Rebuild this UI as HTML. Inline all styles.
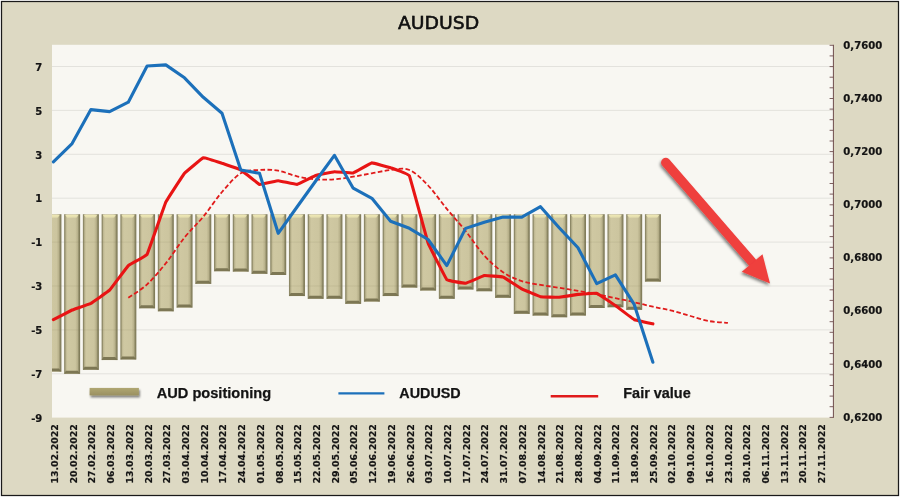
<!DOCTYPE html>
<html lang="en"><head><meta charset="utf-8"><title>AUDUSD</title>
<style>html,body{margin:0;padding:0;background:#fff}body{width:900px;height:497px;overflow:hidden}svg{display:block}.ax{font-family:"DejaVu Sans","Liberation Sans",sans-serif;font-weight:bold;fill:#141414;stroke:#141414;stroke-width:0.2px}.lg{font-family:"Liberation Sans",sans-serif;font-weight:bold;fill:#141414}.ti{font-family:"DejaVu Sans","Liberation Sans",sans-serif;fill:#111}</style></head><body>
<svg width="900" height="497" viewBox="0 0 900 497">
<defs>
<linearGradient id="bg" x1="0" y1="0" x2="1" y2="0"><stop offset="0" stop-color="#8a8563"/><stop offset="0.05" stop-color="#8f8a68"/><stop offset="0.12" stop-color="#c0b993"/><stop offset="0.22" stop-color="#cfc8a2"/><stop offset="0.70" stop-color="#ccc59f"/><stop offset="0.84" stop-color="#b8b18b"/><stop offset="0.92" stop-color="#8d8865"/><stop offset="1" stop-color="#787350"/></linearGradient>
<linearGradient id="bt" x1="0" y1="0" x2="0" y2="1"><stop offset="0" stop-color="#f0eab6" stop-opacity="0.95"/><stop offset="0.6" stop-color="#ebe5b2" stop-opacity="0.8"/><stop offset="1" stop-color="#e6e0b0" stop-opacity="0"/></linearGradient>
<linearGradient id="bb" x1="0" y1="0" x2="0" y2="1"><stop offset="0" stop-color="#6f6946" stop-opacity="0"/><stop offset="1" stop-color="#6f6946" stop-opacity="0.85"/></linearGradient>
<linearGradient id="lgb" x1="0" y1="0" x2="0" y2="1"><stop offset="0" stop-color="#b0a772"/><stop offset="1" stop-color="#9a9060"/></linearGradient>
<filter id="sh" x="-20%" y="-20%" width="140%" height="140%"><feGaussianBlur in="SourceAlpha" stdDeviation="1.7"/><feOffset dx="-1.5" dy="2"/><feComponentTransfer><feFuncA type="linear" slope="0.5"/></feComponentTransfer><feMerge><feMergeNode/><feMergeNode in="SourceGraphic"/></feMerge></filter>
<filter id="sh2" x="-10%" y="-50%" width="120%" height="250%"><feGaussianBlur in="SourceAlpha" stdDeviation="1"/><feOffset dx="0.5" dy="1.5"/><feComponentTransfer><feFuncA type="linear" slope="0.5"/></feComponentTransfer><feMerge><feMergeNode/><feMergeNode in="SourceGraphic"/></feMerge></filter>
<clipPath id="cp"><rect x="52.0" y="44.8" width="781.0" height="372.8"/></clipPath>
</defs>
<rect x="0" y="0" width="900" height="497" fill="#ffffff"/>
<rect x="1.5" y="1.5" width="897" height="494" fill="#ddd9c3" stroke="#1a1a1a" stroke-width="1.25"/>
<rect x="52.0" y="44.8" width="781.0" height="372.8" fill="#f8f7f2"/>
<line x1="52.0" x2="833.0" y1="66.5" y2="66.5" stroke="#e3e2dd" stroke-width="1"/>
<line x1="52.0" x2="833.0" y1="110.4" y2="110.4" stroke="#e3e2dd" stroke-width="1"/>
<line x1="52.0" x2="833.0" y1="154.3" y2="154.3" stroke="#e3e2dd" stroke-width="1"/>
<line x1="52.0" x2="833.0" y1="198.2" y2="198.2" stroke="#e3e2dd" stroke-width="1"/>
<line x1="52.0" x2="833.0" y1="242.1" y2="242.1" stroke="#e3e2dd" stroke-width="1"/>
<line x1="52.0" x2="833.0" y1="286.0" y2="286.0" stroke="#e3e2dd" stroke-width="1"/>
<line x1="52.0" x2="833.0" y1="329.9" y2="329.9" stroke="#e3e2dd" stroke-width="1"/>
<line x1="52.0" x2="833.0" y1="373.8" y2="373.8" stroke="#e3e2dd" stroke-width="1"/>
<g clip-path="url(#cp)">
<rect x="45.40" y="214.2" width="16.0" height="157.4" fill="url(#bg)"/>
<polygon points="46.60,214.89999999999998 59.60,214.89999999999998 57.40,218.39999999999998 48.80,218.39999999999998" fill="url(#bt)"/>
<polygon points="45.40,371.6 61.40,371.6 59.00,368.6 47.20,368.6" fill="#787350" fill-opacity="0.95"/>
<rect x="64.13" y="214.2" width="16.0" height="159.6" fill="url(#bg)"/>
<polygon points="65.33,214.89999999999998 78.33,214.89999999999998 76.13,218.39999999999998 67.53,218.39999999999998" fill="url(#bt)"/>
<polygon points="64.13,373.8 80.13,373.8 77.73,370.8 65.93,370.8" fill="#787350" fill-opacity="0.95"/>
<rect x="82.87" y="214.2" width="16.0" height="155.6" fill="url(#bg)"/>
<polygon points="84.07,214.89999999999998 97.07,214.89999999999998 94.87,218.39999999999998 86.27,218.39999999999998" fill="url(#bt)"/>
<polygon points="82.87,369.8 98.87,369.8 96.47,366.8 84.67,366.8" fill="#787350" fill-opacity="0.95"/>
<rect x="101.60" y="214.2" width="16.0" height="145.9" fill="url(#bg)"/>
<polygon points="102.80,214.89999999999998 115.80,214.89999999999998 113.60,218.39999999999998 105.00,218.39999999999998" fill="url(#bt)"/>
<polygon points="101.60,360.1 117.60,360.1 115.20,357.1 103.40,357.1" fill="#787350" fill-opacity="0.95"/>
<rect x="120.34" y="214.2" width="16.0" height="145.2" fill="url(#bg)"/>
<polygon points="121.54,214.89999999999998 134.54,214.89999999999998 132.34,218.39999999999998 123.74,218.39999999999998" fill="url(#bt)"/>
<polygon points="120.34,359.4 136.34,359.4 133.94,356.4 122.14,356.4" fill="#787350" fill-opacity="0.95"/>
<rect x="139.07" y="214.2" width="16.0" height="94.1" fill="url(#bg)"/>
<polygon points="140.27,214.89999999999998 153.27,214.89999999999998 151.07,218.39999999999998 142.47,218.39999999999998" fill="url(#bt)"/>
<polygon points="139.07,308.3 155.07,308.3 152.67,305.3 140.88,305.3" fill="#787350" fill-opacity="0.95"/>
<rect x="157.81" y="214.2" width="16.0" height="97.1" fill="url(#bg)"/>
<polygon points="159.01,214.89999999999998 172.01,214.89999999999998 169.81,218.39999999999998 161.21,218.39999999999998" fill="url(#bt)"/>
<polygon points="157.81,311.3 173.81,311.3 171.41,308.3 159.61,308.3" fill="#787350" fill-opacity="0.95"/>
<rect x="176.54" y="214.2" width="16.0" height="93.3" fill="url(#bg)"/>
<polygon points="177.74,214.89999999999998 190.74,214.89999999999998 188.54,218.39999999999998 179.94,218.39999999999998" fill="url(#bt)"/>
<polygon points="176.54,307.5 192.54,307.5 190.14,304.5 178.34,304.5" fill="#787350" fill-opacity="0.95"/>
<rect x="195.28" y="214.2" width="16.0" height="69.6" fill="url(#bg)"/>
<polygon points="196.48,214.89999999999998 209.48,214.89999999999998 207.28,218.39999999999998 198.68,218.39999999999998" fill="url(#bt)"/>
<polygon points="195.28,283.8 211.28,283.8 208.88,280.8 197.08,280.8" fill="#787350" fill-opacity="0.95"/>
<rect x="214.02" y="214.2" width="16.0" height="57.0" fill="url(#bg)"/>
<polygon points="215.22,214.89999999999998 228.22,214.89999999999998 226.02,218.39999999999998 217.42,218.39999999999998" fill="url(#bt)"/>
<polygon points="214.02,271.2 230.02,271.2 227.62,268.2 215.82,268.2" fill="#787350" fill-opacity="0.95"/>
<rect x="232.75" y="214.2" width="16.0" height="57.4" fill="url(#bg)"/>
<polygon points="233.95,214.89999999999998 246.95,214.89999999999998 244.75,218.39999999999998 236.15,218.39999999999998" fill="url(#bt)"/>
<polygon points="232.75,271.6 248.75,271.6 246.35,268.6 234.55,268.6" fill="#787350" fill-opacity="0.95"/>
<rect x="251.48" y="214.2" width="16.0" height="59.6" fill="url(#bg)"/>
<polygon points="252.68,214.89999999999998 265.68,214.89999999999998 263.48,218.39999999999998 254.88,218.39999999999998" fill="url(#bt)"/>
<polygon points="251.48,273.8 267.48,273.8 265.08,270.8 253.28,270.8" fill="#787350" fill-opacity="0.95"/>
<rect x="270.22" y="214.2" width="16.0" height="60.7" fill="url(#bg)"/>
<polygon points="271.42,214.89999999999998 284.42,214.89999999999998 282.22,218.39999999999998 273.62,218.39999999999998" fill="url(#bt)"/>
<polygon points="270.22,274.9 286.22,274.9 283.82,271.9 272.02,271.9" fill="#787350" fill-opacity="0.95"/>
<rect x="288.95" y="214.2" width="16.0" height="81.9" fill="url(#bg)"/>
<polygon points="290.15,214.89999999999998 303.15,214.89999999999998 300.95,218.39999999999998 292.35,218.39999999999998" fill="url(#bt)"/>
<polygon points="288.95,296.1 304.95,296.1 302.56,293.1 290.75,293.1" fill="#787350" fill-opacity="0.95"/>
<rect x="307.69" y="214.2" width="16.0" height="84.5" fill="url(#bg)"/>
<polygon points="308.89,214.89999999999998 321.89,214.89999999999998 319.69,218.39999999999998 311.09,218.39999999999998" fill="url(#bt)"/>
<polygon points="307.69,298.7 323.69,298.7 321.29,295.7 309.49,295.7" fill="#787350" fill-opacity="0.95"/>
<rect x="326.42" y="214.2" width="16.0" height="84.5" fill="url(#bg)"/>
<polygon points="327.62,214.89999999999998 340.62,214.89999999999998 338.42,218.39999999999998 329.82,218.39999999999998" fill="url(#bt)"/>
<polygon points="326.42,298.7 342.42,298.7 340.02,295.7 328.22,295.7" fill="#787350" fill-opacity="0.95"/>
<rect x="345.16" y="214.2" width="16.0" height="89.6" fill="url(#bg)"/>
<polygon points="346.36,214.89999999999998 359.36,214.89999999999998 357.16,218.39999999999998 348.56,218.39999999999998" fill="url(#bt)"/>
<polygon points="345.16,303.8 361.16,303.8 358.76,300.8 346.96,300.8" fill="#787350" fill-opacity="0.95"/>
<rect x="363.89" y="214.2" width="16.0" height="87.4" fill="url(#bg)"/>
<polygon points="365.09,214.89999999999998 378.09,214.89999999999998 375.89,218.39999999999998 367.29,218.39999999999998" fill="url(#bt)"/>
<polygon points="363.89,301.6 379.89,301.6 377.50,298.6 365.69,298.6" fill="#787350" fill-opacity="0.95"/>
<rect x="382.63" y="214.2" width="16.0" height="81.9" fill="url(#bg)"/>
<polygon points="383.83,214.89999999999998 396.83,214.89999999999998 394.63,218.39999999999998 386.03,218.39999999999998" fill="url(#bt)"/>
<polygon points="382.63,296.1 398.63,296.1 396.23,293.1 384.43,293.1" fill="#787350" fill-opacity="0.95"/>
<rect x="401.36" y="214.2" width="16.0" height="73.4" fill="url(#bg)"/>
<polygon points="402.56,214.89999999999998 415.56,214.89999999999998 413.36,218.39999999999998 404.76,218.39999999999998" fill="url(#bt)"/>
<polygon points="401.36,287.6 417.36,287.6 414.96,284.6 403.16,284.6" fill="#787350" fill-opacity="0.95"/>
<rect x="420.10" y="214.2" width="16.0" height="76.3" fill="url(#bg)"/>
<polygon points="421.30,214.89999999999998 434.30,214.89999999999998 432.10,218.39999999999998 423.50,218.39999999999998" fill="url(#bt)"/>
<polygon points="420.10,290.5 436.10,290.5 433.70,287.5 421.90,287.5" fill="#787350" fill-opacity="0.95"/>
<rect x="438.83" y="214.2" width="16.0" height="84.5" fill="url(#bg)"/>
<polygon points="440.03,214.89999999999998 453.03,214.89999999999998 450.83,218.39999999999998 442.23,218.39999999999998" fill="url(#bt)"/>
<polygon points="438.83,298.7 454.83,298.7 452.44,295.7 440.63,295.7" fill="#787350" fill-opacity="0.95"/>
<rect x="457.57" y="214.2" width="16.0" height="75.2" fill="url(#bg)"/>
<polygon points="458.77,214.89999999999998 471.77,214.89999999999998 469.57,218.39999999999998 460.97,218.39999999999998" fill="url(#bt)"/>
<polygon points="457.57,289.4 473.57,289.4 471.17,286.4 459.37,286.4" fill="#787350" fill-opacity="0.95"/>
<rect x="476.30" y="214.2" width="16.0" height="77.0" fill="url(#bg)"/>
<polygon points="477.50,214.89999999999998 490.50,214.89999999999998 488.30,218.39999999999998 479.70,218.39999999999998" fill="url(#bt)"/>
<polygon points="476.30,291.2 492.30,291.2 489.90,288.2 478.10,288.2" fill="#787350" fill-opacity="0.95"/>
<rect x="495.04" y="214.2" width="16.0" height="83.6" fill="url(#bg)"/>
<polygon points="496.24,214.89999999999998 509.24,214.89999999999998 507.04,218.39999999999998 498.44,218.39999999999998" fill="url(#bt)"/>
<polygon points="495.04,297.8 511.04,297.8 508.64,294.8 496.84,294.8" fill="#787350" fill-opacity="0.95"/>
<rect x="513.77" y="214.2" width="16.0" height="99.6" fill="url(#bg)"/>
<polygon points="514.98,214.89999999999998 527.98,214.89999999999998 525.77,218.39999999999998 517.17,218.39999999999998" fill="url(#bt)"/>
<polygon points="513.77,313.8 529.77,313.8 527.38,310.8 515.57,310.8" fill="#787350" fill-opacity="0.95"/>
<rect x="532.51" y="214.2" width="16.0" height="101.4" fill="url(#bg)"/>
<polygon points="533.71,214.89999999999998 546.71,214.89999999999998 544.51,218.39999999999998 535.91,218.39999999999998" fill="url(#bt)"/>
<polygon points="532.51,315.6 548.51,315.6 546.11,312.6 534.31,312.6" fill="#787350" fill-opacity="0.95"/>
<rect x="551.25" y="214.2" width="16.0" height="103.0" fill="url(#bg)"/>
<polygon points="552.45,214.89999999999998 565.45,214.89999999999998 563.25,218.39999999999998 554.64,218.39999999999998" fill="url(#bt)"/>
<polygon points="551.25,317.2 567.25,317.2 564.85,314.2 553.04,314.2" fill="#787350" fill-opacity="0.95"/>
<rect x="569.98" y="214.2" width="16.0" height="101.3" fill="url(#bg)"/>
<polygon points="571.18,214.89999999999998 584.18,214.89999999999998 581.98,218.39999999999998 573.38,218.39999999999998" fill="url(#bt)"/>
<polygon points="569.98,315.5 585.98,315.5 583.58,312.5 571.78,312.5" fill="#787350" fill-opacity="0.95"/>
<rect x="588.71" y="214.2" width="16.0" height="93.8" fill="url(#bg)"/>
<polygon points="589.91,214.89999999999998 602.91,214.89999999999998 600.71,218.39999999999998 592.11,218.39999999999998" fill="url(#bt)"/>
<polygon points="588.71,308.0 604.71,308.0 602.31,305.0 590.51,305.0" fill="#787350" fill-opacity="0.95"/>
<rect x="607.45" y="214.2" width="16.0" height="93.0" fill="url(#bg)"/>
<polygon points="608.65,214.89999999999998 621.65,214.89999999999998 619.45,218.39999999999998 610.85,218.39999999999998" fill="url(#bt)"/>
<polygon points="607.45,307.2 623.45,307.2 621.05,304.2 609.25,304.2" fill="#787350" fill-opacity="0.95"/>
<rect x="626.18" y="214.2" width="16.0" height="95.6" fill="url(#bg)"/>
<polygon points="627.38,214.89999999999998 640.38,214.89999999999998 638.18,218.39999999999998 629.58,218.39999999999998" fill="url(#bt)"/>
<polygon points="626.18,309.8 642.18,309.8 639.78,306.8 627.98,306.8" fill="#787350" fill-opacity="0.95"/>
<rect x="644.92" y="214.2" width="16.0" height="67.4" fill="url(#bg)"/>
<polygon points="646.12,214.89999999999998 659.12,214.89999999999998 656.92,218.39999999999998 648.32,218.39999999999998" fill="url(#bt)"/>
<polygon points="644.92,281.6 660.92,281.6 658.52,278.6 646.72,278.6" fill="#787350" fill-opacity="0.95"/>
<line x1="46.4" x2="60.4" y1="242.1" y2="242.1" stroke="#6b6647" stroke-opacity="0.10" stroke-width="1"/>
<line x1="46.4" x2="60.4" y1="286.0" y2="286.0" stroke="#6b6647" stroke-opacity="0.10" stroke-width="1"/>
<line x1="46.4" x2="60.4" y1="329.9" y2="329.9" stroke="#6b6647" stroke-opacity="0.10" stroke-width="1"/>
<line x1="65.1" x2="79.1" y1="242.1" y2="242.1" stroke="#6b6647" stroke-opacity="0.10" stroke-width="1"/>
<line x1="65.1" x2="79.1" y1="286.0" y2="286.0" stroke="#6b6647" stroke-opacity="0.10" stroke-width="1"/>
<line x1="65.1" x2="79.1" y1="329.9" y2="329.9" stroke="#6b6647" stroke-opacity="0.10" stroke-width="1"/>
<line x1="83.9" x2="97.9" y1="242.1" y2="242.1" stroke="#6b6647" stroke-opacity="0.10" stroke-width="1"/>
<line x1="83.9" x2="97.9" y1="286.0" y2="286.0" stroke="#6b6647" stroke-opacity="0.10" stroke-width="1"/>
<line x1="83.9" x2="97.9" y1="329.9" y2="329.9" stroke="#6b6647" stroke-opacity="0.10" stroke-width="1"/>
<line x1="102.6" x2="116.6" y1="242.1" y2="242.1" stroke="#6b6647" stroke-opacity="0.10" stroke-width="1"/>
<line x1="102.6" x2="116.6" y1="286.0" y2="286.0" stroke="#6b6647" stroke-opacity="0.10" stroke-width="1"/>
<line x1="102.6" x2="116.6" y1="329.9" y2="329.9" stroke="#6b6647" stroke-opacity="0.10" stroke-width="1"/>
<line x1="121.3" x2="135.3" y1="242.1" y2="242.1" stroke="#6b6647" stroke-opacity="0.10" stroke-width="1"/>
<line x1="121.3" x2="135.3" y1="286.0" y2="286.0" stroke="#6b6647" stroke-opacity="0.10" stroke-width="1"/>
<line x1="121.3" x2="135.3" y1="329.9" y2="329.9" stroke="#6b6647" stroke-opacity="0.10" stroke-width="1"/>
<line x1="140.1" x2="154.1" y1="242.1" y2="242.1" stroke="#6b6647" stroke-opacity="0.10" stroke-width="1"/>
<line x1="140.1" x2="154.1" y1="286.0" y2="286.0" stroke="#6b6647" stroke-opacity="0.10" stroke-width="1"/>
<line x1="158.8" x2="172.8" y1="242.1" y2="242.1" stroke="#6b6647" stroke-opacity="0.10" stroke-width="1"/>
<line x1="158.8" x2="172.8" y1="286.0" y2="286.0" stroke="#6b6647" stroke-opacity="0.10" stroke-width="1"/>
<line x1="177.5" x2="191.5" y1="242.1" y2="242.1" stroke="#6b6647" stroke-opacity="0.10" stroke-width="1"/>
<line x1="177.5" x2="191.5" y1="286.0" y2="286.0" stroke="#6b6647" stroke-opacity="0.10" stroke-width="1"/>
<line x1="196.3" x2="210.3" y1="242.1" y2="242.1" stroke="#6b6647" stroke-opacity="0.10" stroke-width="1"/>
<line x1="215.0" x2="229.0" y1="242.1" y2="242.1" stroke="#6b6647" stroke-opacity="0.10" stroke-width="1"/>
<line x1="233.8" x2="247.8" y1="242.1" y2="242.1" stroke="#6b6647" stroke-opacity="0.10" stroke-width="1"/>
<line x1="252.5" x2="266.5" y1="242.1" y2="242.1" stroke="#6b6647" stroke-opacity="0.10" stroke-width="1"/>
<line x1="271.2" x2="285.2" y1="242.1" y2="242.1" stroke="#6b6647" stroke-opacity="0.10" stroke-width="1"/>
<line x1="290.0" x2="304.0" y1="242.1" y2="242.1" stroke="#6b6647" stroke-opacity="0.10" stroke-width="1"/>
<line x1="290.0" x2="304.0" y1="286.0" y2="286.0" stroke="#6b6647" stroke-opacity="0.10" stroke-width="1"/>
<line x1="308.7" x2="322.7" y1="242.1" y2="242.1" stroke="#6b6647" stroke-opacity="0.10" stroke-width="1"/>
<line x1="308.7" x2="322.7" y1="286.0" y2="286.0" stroke="#6b6647" stroke-opacity="0.10" stroke-width="1"/>
<line x1="327.4" x2="341.4" y1="242.1" y2="242.1" stroke="#6b6647" stroke-opacity="0.10" stroke-width="1"/>
<line x1="327.4" x2="341.4" y1="286.0" y2="286.0" stroke="#6b6647" stroke-opacity="0.10" stroke-width="1"/>
<line x1="346.2" x2="360.2" y1="242.1" y2="242.1" stroke="#6b6647" stroke-opacity="0.10" stroke-width="1"/>
<line x1="346.2" x2="360.2" y1="286.0" y2="286.0" stroke="#6b6647" stroke-opacity="0.10" stroke-width="1"/>
<line x1="364.9" x2="378.9" y1="242.1" y2="242.1" stroke="#6b6647" stroke-opacity="0.10" stroke-width="1"/>
<line x1="364.9" x2="378.9" y1="286.0" y2="286.0" stroke="#6b6647" stroke-opacity="0.10" stroke-width="1"/>
<line x1="383.6" x2="397.6" y1="242.1" y2="242.1" stroke="#6b6647" stroke-opacity="0.10" stroke-width="1"/>
<line x1="383.6" x2="397.6" y1="286.0" y2="286.0" stroke="#6b6647" stroke-opacity="0.10" stroke-width="1"/>
<line x1="402.4" x2="416.4" y1="242.1" y2="242.1" stroke="#6b6647" stroke-opacity="0.10" stroke-width="1"/>
<line x1="402.4" x2="416.4" y1="286.0" y2="286.0" stroke="#6b6647" stroke-opacity="0.10" stroke-width="1"/>
<line x1="421.1" x2="435.1" y1="242.1" y2="242.1" stroke="#6b6647" stroke-opacity="0.10" stroke-width="1"/>
<line x1="421.1" x2="435.1" y1="286.0" y2="286.0" stroke="#6b6647" stroke-opacity="0.10" stroke-width="1"/>
<line x1="439.8" x2="453.8" y1="242.1" y2="242.1" stroke="#6b6647" stroke-opacity="0.10" stroke-width="1"/>
<line x1="439.8" x2="453.8" y1="286.0" y2="286.0" stroke="#6b6647" stroke-opacity="0.10" stroke-width="1"/>
<line x1="458.6" x2="472.6" y1="242.1" y2="242.1" stroke="#6b6647" stroke-opacity="0.10" stroke-width="1"/>
<line x1="458.6" x2="472.6" y1="286.0" y2="286.0" stroke="#6b6647" stroke-opacity="0.10" stroke-width="1"/>
<line x1="477.3" x2="491.3" y1="242.1" y2="242.1" stroke="#6b6647" stroke-opacity="0.10" stroke-width="1"/>
<line x1="477.3" x2="491.3" y1="286.0" y2="286.0" stroke="#6b6647" stroke-opacity="0.10" stroke-width="1"/>
<line x1="496.0" x2="510.0" y1="242.1" y2="242.1" stroke="#6b6647" stroke-opacity="0.10" stroke-width="1"/>
<line x1="496.0" x2="510.0" y1="286.0" y2="286.0" stroke="#6b6647" stroke-opacity="0.10" stroke-width="1"/>
<line x1="514.8" x2="528.8" y1="242.1" y2="242.1" stroke="#6b6647" stroke-opacity="0.10" stroke-width="1"/>
<line x1="514.8" x2="528.8" y1="286.0" y2="286.0" stroke="#6b6647" stroke-opacity="0.10" stroke-width="1"/>
<line x1="533.5" x2="547.5" y1="242.1" y2="242.1" stroke="#6b6647" stroke-opacity="0.10" stroke-width="1"/>
<line x1="533.5" x2="547.5" y1="286.0" y2="286.0" stroke="#6b6647" stroke-opacity="0.10" stroke-width="1"/>
<line x1="552.2" x2="566.2" y1="242.1" y2="242.1" stroke="#6b6647" stroke-opacity="0.10" stroke-width="1"/>
<line x1="552.2" x2="566.2" y1="286.0" y2="286.0" stroke="#6b6647" stroke-opacity="0.10" stroke-width="1"/>
<line x1="571.0" x2="585.0" y1="242.1" y2="242.1" stroke="#6b6647" stroke-opacity="0.10" stroke-width="1"/>
<line x1="571.0" x2="585.0" y1="286.0" y2="286.0" stroke="#6b6647" stroke-opacity="0.10" stroke-width="1"/>
<line x1="589.7" x2="603.7" y1="242.1" y2="242.1" stroke="#6b6647" stroke-opacity="0.10" stroke-width="1"/>
<line x1="589.7" x2="603.7" y1="286.0" y2="286.0" stroke="#6b6647" stroke-opacity="0.10" stroke-width="1"/>
<line x1="608.4" x2="622.4" y1="242.1" y2="242.1" stroke="#6b6647" stroke-opacity="0.10" stroke-width="1"/>
<line x1="608.4" x2="622.4" y1="286.0" y2="286.0" stroke="#6b6647" stroke-opacity="0.10" stroke-width="1"/>
<line x1="627.2" x2="641.2" y1="242.1" y2="242.1" stroke="#6b6647" stroke-opacity="0.10" stroke-width="1"/>
<line x1="627.2" x2="641.2" y1="286.0" y2="286.0" stroke="#6b6647" stroke-opacity="0.10" stroke-width="1"/>
<line x1="645.9" x2="659.9" y1="242.1" y2="242.1" stroke="#6b6647" stroke-opacity="0.10" stroke-width="1"/>
</g>
<line x1="833.4" x2="833.4" y1="44.8" y2="417.8" stroke="#6f4e4e" stroke-width="1"/>
<line x1="829.6" x2="833.4" y1="45.3" y2="45.3" stroke="#6f4e4e" stroke-width="0.9"/>
<line x1="829.6" x2="833.4" y1="55.9" y2="55.9" stroke="#6f4e4e" stroke-width="0.9"/>
<line x1="829.6" x2="833.4" y1="66.6" y2="66.6" stroke="#6f4e4e" stroke-width="0.9"/>
<line x1="829.6" x2="833.4" y1="77.2" y2="77.2" stroke="#6f4e4e" stroke-width="0.9"/>
<line x1="829.6" x2="833.4" y1="87.8" y2="87.8" stroke="#6f4e4e" stroke-width="0.9"/>
<line x1="829.6" x2="833.4" y1="98.5" y2="98.5" stroke="#6f4e4e" stroke-width="0.9"/>
<line x1="829.6" x2="833.4" y1="109.1" y2="109.1" stroke="#6f4e4e" stroke-width="0.9"/>
<line x1="829.6" x2="833.4" y1="119.7" y2="119.7" stroke="#6f4e4e" stroke-width="0.9"/>
<line x1="829.6" x2="833.4" y1="130.3" y2="130.3" stroke="#6f4e4e" stroke-width="0.9"/>
<line x1="829.6" x2="833.4" y1="141.0" y2="141.0" stroke="#6f4e4e" stroke-width="0.9"/>
<line x1="829.6" x2="833.4" y1="151.6" y2="151.6" stroke="#6f4e4e" stroke-width="0.9"/>
<line x1="829.6" x2="833.4" y1="162.2" y2="162.2" stroke="#6f4e4e" stroke-width="0.9"/>
<line x1="829.6" x2="833.4" y1="172.9" y2="172.9" stroke="#6f4e4e" stroke-width="0.9"/>
<line x1="829.6" x2="833.4" y1="183.5" y2="183.5" stroke="#6f4e4e" stroke-width="0.9"/>
<line x1="829.6" x2="833.4" y1="194.1" y2="194.1" stroke="#6f4e4e" stroke-width="0.9"/>
<line x1="829.6" x2="833.4" y1="204.8" y2="204.8" stroke="#6f4e4e" stroke-width="0.9"/>
<line x1="829.6" x2="833.4" y1="215.4" y2="215.4" stroke="#6f4e4e" stroke-width="0.9"/>
<line x1="829.6" x2="833.4" y1="226.0" y2="226.0" stroke="#6f4e4e" stroke-width="0.9"/>
<line x1="829.6" x2="833.4" y1="236.6" y2="236.6" stroke="#6f4e4e" stroke-width="0.9"/>
<line x1="829.6" x2="833.4" y1="247.3" y2="247.3" stroke="#6f4e4e" stroke-width="0.9"/>
<line x1="829.6" x2="833.4" y1="257.9" y2="257.9" stroke="#6f4e4e" stroke-width="0.9"/>
<line x1="829.6" x2="833.4" y1="268.5" y2="268.5" stroke="#6f4e4e" stroke-width="0.9"/>
<line x1="829.6" x2="833.4" y1="279.2" y2="279.2" stroke="#6f4e4e" stroke-width="0.9"/>
<line x1="829.6" x2="833.4" y1="289.8" y2="289.8" stroke="#6f4e4e" stroke-width="0.9"/>
<line x1="829.6" x2="833.4" y1="300.4" y2="300.4" stroke="#6f4e4e" stroke-width="0.9"/>
<line x1="829.6" x2="833.4" y1="311.1" y2="311.1" stroke="#6f4e4e" stroke-width="0.9"/>
<line x1="829.6" x2="833.4" y1="321.7" y2="321.7" stroke="#6f4e4e" stroke-width="0.9"/>
<line x1="829.6" x2="833.4" y1="332.3" y2="332.3" stroke="#6f4e4e" stroke-width="0.9"/>
<line x1="829.6" x2="833.4" y1="342.9" y2="342.9" stroke="#6f4e4e" stroke-width="0.9"/>
<line x1="829.6" x2="833.4" y1="353.6" y2="353.6" stroke="#6f4e4e" stroke-width="0.9"/>
<line x1="829.6" x2="833.4" y1="364.2" y2="364.2" stroke="#6f4e4e" stroke-width="0.9"/>
<line x1="829.6" x2="833.4" y1="374.8" y2="374.8" stroke="#6f4e4e" stroke-width="0.9"/>
<line x1="829.6" x2="833.4" y1="385.5" y2="385.5" stroke="#6f4e4e" stroke-width="0.9"/>
<line x1="829.6" x2="833.4" y1="396.1" y2="396.1" stroke="#6f4e4e" stroke-width="0.9"/>
<line x1="829.6" x2="833.4" y1="406.7" y2="406.7" stroke="#6f4e4e" stroke-width="0.9"/>
<line x1="829.6" x2="833.4" y1="417.4" y2="417.4" stroke="#6f4e4e" stroke-width="0.9"/>
<path d="M128.3,297.8 C131.5,295.6 140.8,290.1 147.1,284.4 C153.3,278.6 159.6,271.1 165.8,263.3 C172.1,255.5 178.3,245.3 184.5,237.5 C190.8,229.7 197.0,224.3 203.3,216.7 C209.5,209.1 215.8,199.2 222.0,192.0 C228.3,184.8 234.5,177.0 240.8,173.3 C247.0,169.6 253.2,170.4 259.5,170.0 C265.7,169.6 272.0,169.6 278.2,170.7 C284.5,171.8 290.7,174.9 297.0,176.3 C303.2,177.7 309.4,178.8 315.7,179.3 C321.9,179.8 328.2,179.7 334.4,179.3 C340.7,178.9 346.9,177.7 353.2,176.7 C359.4,175.7 365.6,174.4 371.9,173.3 C378.1,172.2 384.4,170.6 390.6,170.0 C396.9,169.4 403.1,167.4 409.4,170.0 C415.6,172.6 421.9,179.0 428.1,185.5 C434.3,192.0 440.6,201.3 446.8,208.9 C453.1,216.5 459.3,223.2 465.6,231.0 C471.8,238.8 478.1,248.7 484.3,255.6 C490.5,262.5 496.8,267.9 503.0,272.2 C509.3,276.4 515.5,279.0 521.8,281.1 C528.0,283.2 534.3,283.8 540.5,284.9 C546.8,286.0 553.0,286.8 559.2,287.8 C565.5,288.8 571.7,289.8 578.0,290.9 C584.2,292.0 590.5,293.0 596.7,294.2 C603.0,295.4 609.2,296.9 615.4,298.2 C621.7,299.5 627.9,300.8 634.2,302.2 C640.4,303.6 646.7,305.3 652.9,306.7 C659.2,308.1 665.4,309.1 671.7,310.7 C677.9,312.2 684.1,314.3 690.4,316.0 C696.6,317.7 702.9,320.0 709.1,321.1 C715.4,322.2 724.7,322.6 727.9,322.9" fill="none" stroke="#e01b1b" stroke-width="1.8" stroke-dasharray="4.6 2.4" stroke-linejoin="round"/>
<path d="M53.4,319.6 C53.9,319.4 71.2,310.4 72.1,310.0 C73.1,309.6 89.9,303.8 90.9,303.3 C91.8,302.8 108.7,291.1 109.6,290.2 C110.5,289.3 127.4,266.5 128.3,265.6 C129.3,264.7 146.1,256.0 147.1,254.4 C148.0,252.8 164.9,204.2 165.8,202.2 C166.7,200.2 183.6,174.4 184.5,173.3 C185.5,172.2 202.3,158.1 203.3,157.8 C204.2,157.6 221.1,163.0 222.0,163.3 C223.0,163.6 239.8,169.3 240.8,169.8 C241.7,170.3 258.5,184.1 259.5,184.4 C260.4,184.7 277.3,180.7 278.2,180.7 C279.2,180.7 296.0,184.5 297.0,184.4 C297.9,184.3 314.8,175.8 315.7,175.5 C316.6,175.2 333.5,171.9 334.4,171.8 C335.4,171.7 352.2,173.2 353.2,173.0 C354.1,172.8 371.0,163.0 371.9,162.9 C372.8,162.8 389.7,167.4 390.6,167.7 C391.6,168.0 408.4,173.9 409.4,175.8 C410.3,177.7 427.2,240.4 428.1,243.0 C429.0,245.6 445.9,278.6 446.8,279.6 C447.8,280.6 464.6,283.4 465.6,283.3 C466.5,283.2 483.4,275.8 484.3,275.6 C485.2,275.4 502.1,276.8 503.0,277.1 C504.0,277.4 520.8,288.4 521.8,288.9 C522.7,289.4 539.6,296.5 540.5,296.7 C541.4,296.9 558.3,297.4 559.2,297.3 C560.2,297.2 577.0,294.5 578.0,294.4 C578.9,294.3 595.8,293.0 596.7,293.3 C597.7,293.6 614.5,304.9 615.4,305.6 C616.4,306.3 633.2,319.1 634.2,319.6 C635.1,320.1 652.5,323.7 652.9,323.8" fill="none" stroke="#e81414" stroke-width="3.1" stroke-linejoin="round" stroke-linecap="round"/>
<path d="M53.4,161.8 L72.1,143.6 L90.9,109.6 L109.6,111.6 L128.3,102.2 L147.1,66.0 L165.8,64.9 L184.5,77.8 L203.3,97.3 L222.0,113.3 L240.8,170.0 L259.5,173.3 L278.2,233.3 L297.0,207.0 L315.7,181.0 L334.4,155.3 L353.2,188.2 L371.9,198.3 L390.6,221.3 L409.4,228.3 L428.1,239.5 L446.8,265.6 L465.6,228.4 L484.3,222.2 L503.0,217.1 L521.8,217.1 L540.5,206.7 L559.2,227.8 L578.0,247.8 L596.7,283.6 L615.4,274.8 L634.2,304.4 L652.9,362.2" fill="none" stroke="#1c70ba" stroke-width="3.1" stroke-linejoin="round" stroke-linecap="round"/>
<g filter="url(#sh)"><line x1="665.8" y1="162.5" x2="752" y2="262" stroke="#ef3f3d" stroke-width="9.5" stroke-linecap="round"/><polygon points="741.8,271.8 762.5,254.2 770,283.5" fill="#ef3f3d"/></g>
<rect x="89.6" y="387.9" width="49.3" height="7.5" fill="url(#lgb)" filter="url(#sh2)"/>
<line x1="338.4" x2="384.4" y1="393.4" y2="393.4" stroke="#1c70ba" stroke-width="2.3"/>
<line x1="550.7" x2="598.2" y1="396.3" y2="396.3" stroke="#e01b1b" stroke-width="2.6"/>
<text class="lg" stroke="#141414" stroke-width="0.25" x="156.7" y="398.3" font-size="14" textLength="114.4" lengthAdjust="spacingAndGlyphs">AUD positioning</text>
<text class="lg" stroke="#141414" stroke-width="0.25" x="399.3" y="398.3" font-size="14" textLength="61.4" lengthAdjust="spacingAndGlyphs">AUDUSD</text>
<text class="lg" stroke="#141414" stroke-width="0.25" x="623.3" y="398.3" font-size="14" textLength="67.4" lengthAdjust="spacingAndGlyphs">Fair value</text>
<text class="ti" x="438.6" y="28.7" font-size="18.5" text-anchor="middle" textLength="81.3" lengthAdjust="spacingAndGlyphs" stroke="#111" stroke-width="0.45" style="filter:drop-shadow(0.6px 0.8px 0.6px rgba(0,0,0,0.35))">AUDUSD</text>
<text class="ax" x="42.3" y="70.7" font-size="10" text-anchor="end">7</text>
<text class="ax" x="42.3" y="114.6" font-size="10" text-anchor="end">5</text>
<text class="ax" x="42.3" y="158.5" font-size="10" text-anchor="end">3</text>
<text class="ax" x="42.3" y="202.4" font-size="10" text-anchor="end">1</text>
<text class="ax" x="42.3" y="246.3" font-size="10" text-anchor="end">-1</text>
<text class="ax" x="42.3" y="290.2" font-size="10" text-anchor="end">-3</text>
<text class="ax" x="42.3" y="334.1" font-size="10" text-anchor="end">-5</text>
<text class="ax" x="42.3" y="378.0" font-size="10" text-anchor="end">-7</text>
<text class="ax" x="42.3" y="421.9" font-size="10" text-anchor="end">-9</text>
<text class="ax" x="843.3" y="48.7" font-size="10" textLength="39" lengthAdjust="spacingAndGlyphs">0,7600</text>
<text class="ax" x="843.3" y="101.8" font-size="10" textLength="39" lengthAdjust="spacingAndGlyphs">0,7400</text>
<text class="ax" x="843.3" y="155.0" font-size="10" textLength="39" lengthAdjust="spacingAndGlyphs">0,7200</text>
<text class="ax" x="843.3" y="208.2" font-size="10" textLength="39" lengthAdjust="spacingAndGlyphs">0,7000</text>
<text class="ax" x="843.3" y="261.3" font-size="10" textLength="39" lengthAdjust="spacingAndGlyphs">0,6800</text>
<text class="ax" x="843.3" y="314.4" font-size="10" textLength="39" lengthAdjust="spacingAndGlyphs">0,6600</text>
<text class="ax" x="843.3" y="367.6" font-size="10" textLength="39" lengthAdjust="spacingAndGlyphs">0,6400</text>
<text class="ax" x="843.3" y="420.8" font-size="10" textLength="39" lengthAdjust="spacingAndGlyphs">0,6200</text>
<text class="ax" transform="translate(58.0,483.5) rotate(-90)" font-size="9.3" textLength="59.2" lengthAdjust="spacingAndGlyphs">13.02.2022</text>
<text class="ax" transform="translate(76.7,483.5) rotate(-90)" font-size="9.3" textLength="59.2" lengthAdjust="spacingAndGlyphs">20.02.2022</text>
<text class="ax" transform="translate(95.4,483.5) rotate(-90)" font-size="9.3" textLength="59.2" lengthAdjust="spacingAndGlyphs">27.02.2022</text>
<text class="ax" transform="translate(114.1,483.5) rotate(-90)" font-size="9.3" textLength="59.2" lengthAdjust="spacingAndGlyphs">06.03.2022</text>
<text class="ax" transform="translate(132.8,483.5) rotate(-90)" font-size="9.3" textLength="59.2" lengthAdjust="spacingAndGlyphs">13.03.2022</text>
<text class="ax" transform="translate(151.6,483.5) rotate(-90)" font-size="9.3" textLength="59.2" lengthAdjust="spacingAndGlyphs">20.03.2022</text>
<text class="ax" transform="translate(170.3,483.5) rotate(-90)" font-size="9.3" textLength="59.2" lengthAdjust="spacingAndGlyphs">27.03.2022</text>
<text class="ax" transform="translate(189.0,483.5) rotate(-90)" font-size="9.3" textLength="59.2" lengthAdjust="spacingAndGlyphs">03.04.2022</text>
<text class="ax" transform="translate(207.7,483.5) rotate(-90)" font-size="9.3" textLength="59.2" lengthAdjust="spacingAndGlyphs">10.04.2022</text>
<text class="ax" transform="translate(226.4,483.5) rotate(-90)" font-size="9.3" textLength="59.2" lengthAdjust="spacingAndGlyphs">17.04.2022</text>
<text class="ax" transform="translate(245.1,483.5) rotate(-90)" font-size="9.3" textLength="59.2" lengthAdjust="spacingAndGlyphs">24.04.2022</text>
<text class="ax" transform="translate(263.8,483.5) rotate(-90)" font-size="9.3" textLength="59.2" lengthAdjust="spacingAndGlyphs">01.05.2022</text>
<text class="ax" transform="translate(282.5,483.5) rotate(-90)" font-size="9.3" textLength="59.2" lengthAdjust="spacingAndGlyphs">08.05.2022</text>
<text class="ax" transform="translate(301.2,483.5) rotate(-90)" font-size="9.3" textLength="59.2" lengthAdjust="spacingAndGlyphs">15.05.2022</text>
<text class="ax" transform="translate(319.9,483.5) rotate(-90)" font-size="9.3" textLength="59.2" lengthAdjust="spacingAndGlyphs">22.05.2022</text>
<text class="ax" transform="translate(338.7,483.5) rotate(-90)" font-size="9.3" textLength="59.2" lengthAdjust="spacingAndGlyphs">29.05.2022</text>
<text class="ax" transform="translate(357.4,483.5) rotate(-90)" font-size="9.3" textLength="59.2" lengthAdjust="spacingAndGlyphs">05.06.2022</text>
<text class="ax" transform="translate(376.1,483.5) rotate(-90)" font-size="9.3" textLength="59.2" lengthAdjust="spacingAndGlyphs">12.06.2022</text>
<text class="ax" transform="translate(394.8,483.5) rotate(-90)" font-size="9.3" textLength="59.2" lengthAdjust="spacingAndGlyphs">19.06.2022</text>
<text class="ax" transform="translate(413.5,483.5) rotate(-90)" font-size="9.3" textLength="59.2" lengthAdjust="spacingAndGlyphs">26.06.2022</text>
<text class="ax" transform="translate(432.2,483.5) rotate(-90)" font-size="9.3" textLength="59.2" lengthAdjust="spacingAndGlyphs">03.07.2022</text>
<text class="ax" transform="translate(450.9,483.5) rotate(-90)" font-size="9.3" textLength="59.2" lengthAdjust="spacingAndGlyphs">10.07.2022</text>
<text class="ax" transform="translate(469.6,483.5) rotate(-90)" font-size="9.3" textLength="59.2" lengthAdjust="spacingAndGlyphs">17.07.2022</text>
<text class="ax" transform="translate(488.3,483.5) rotate(-90)" font-size="9.3" textLength="59.2" lengthAdjust="spacingAndGlyphs">24.07.2022</text>
<text class="ax" transform="translate(507.0,483.5) rotate(-90)" font-size="9.3" textLength="59.2" lengthAdjust="spacingAndGlyphs">31.07.2022</text>
<text class="ax" transform="translate(525.8,483.5) rotate(-90)" font-size="9.3" textLength="59.2" lengthAdjust="spacingAndGlyphs">07.08.2022</text>
<text class="ax" transform="translate(544.5,483.5) rotate(-90)" font-size="9.3" textLength="59.2" lengthAdjust="spacingAndGlyphs">14.08.2022</text>
<text class="ax" transform="translate(563.2,483.5) rotate(-90)" font-size="9.3" textLength="59.2" lengthAdjust="spacingAndGlyphs">21.08.2022</text>
<text class="ax" transform="translate(581.9,483.5) rotate(-90)" font-size="9.3" textLength="59.2" lengthAdjust="spacingAndGlyphs">28.08.2022</text>
<text class="ax" transform="translate(600.6,483.5) rotate(-90)" font-size="9.3" textLength="59.2" lengthAdjust="spacingAndGlyphs">04.09.2022</text>
<text class="ax" transform="translate(619.3,483.5) rotate(-90)" font-size="9.3" textLength="59.2" lengthAdjust="spacingAndGlyphs">11.09.2022</text>
<text class="ax" transform="translate(638.0,483.5) rotate(-90)" font-size="9.3" textLength="59.2" lengthAdjust="spacingAndGlyphs">18.09.2022</text>
<text class="ax" transform="translate(656.7,483.5) rotate(-90)" font-size="9.3" textLength="59.2" lengthAdjust="spacingAndGlyphs">25.09.2022</text>
<text class="ax" transform="translate(675.4,483.5) rotate(-90)" font-size="9.3" textLength="59.2" lengthAdjust="spacingAndGlyphs">02.10.2022</text>
<text class="ax" transform="translate(694.1,483.5) rotate(-90)" font-size="9.3" textLength="59.2" lengthAdjust="spacingAndGlyphs">09.10.2022</text>
<text class="ax" transform="translate(712.9,483.5) rotate(-90)" font-size="9.3" textLength="59.2" lengthAdjust="spacingAndGlyphs">16.10.2022</text>
<text class="ax" transform="translate(731.6,483.5) rotate(-90)" font-size="9.3" textLength="59.2" lengthAdjust="spacingAndGlyphs">23.10.2022</text>
<text class="ax" transform="translate(750.3,483.5) rotate(-90)" font-size="9.3" textLength="59.2" lengthAdjust="spacingAndGlyphs">30.10.2022</text>
<text class="ax" transform="translate(769.0,483.5) rotate(-90)" font-size="9.3" textLength="59.2" lengthAdjust="spacingAndGlyphs">06.11.2022</text>
<text class="ax" transform="translate(787.7,483.5) rotate(-90)" font-size="9.3" textLength="59.2" lengthAdjust="spacingAndGlyphs">13.11.2022</text>
<text class="ax" transform="translate(806.4,483.5) rotate(-90)" font-size="9.3" textLength="59.2" lengthAdjust="spacingAndGlyphs">20.11.2022</text>
<text class="ax" transform="translate(825.1,483.5) rotate(-90)" font-size="9.3" textLength="59.2" lengthAdjust="spacingAndGlyphs">27.11.2022</text>
</svg></body></html>
